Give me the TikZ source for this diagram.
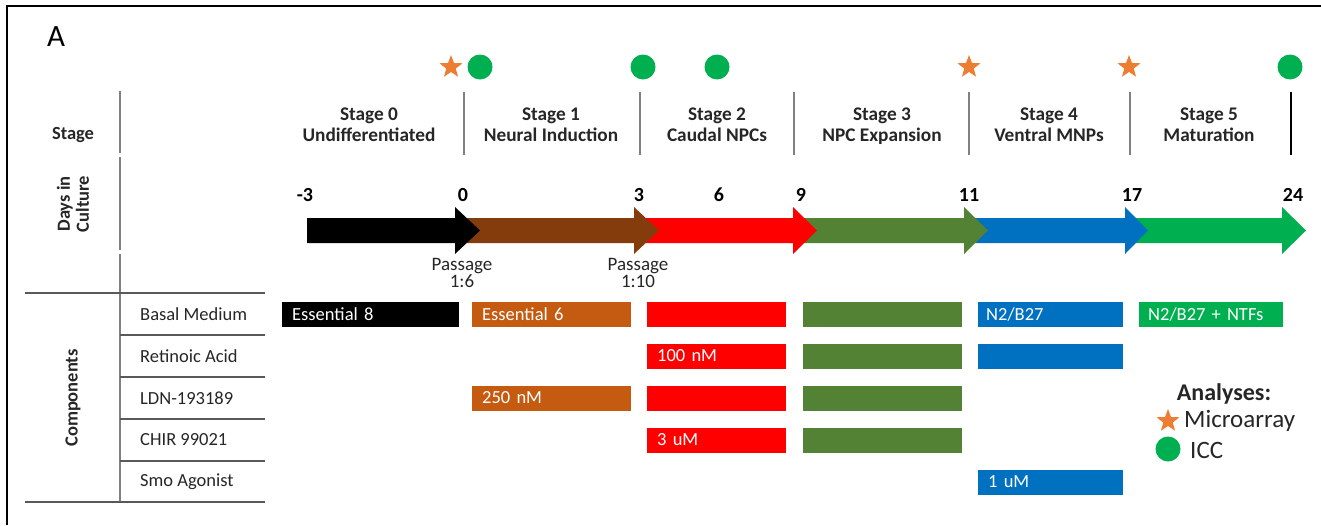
\documentclass[tikz,border=0pt]{standalone}
\usepackage{fontspec}
\setmainfont{Carlito}
\usetikzlibrary{shapes.geometric}
\definecolor{cbrownA}{HTML}{843C0C}
\definecolor{cbrownB}{HTML}{C55A11}
\definecolor{cred}{HTML}{FF0000}
\definecolor{colive}{HTML}{548235}
\definecolor{cblue}{HTML}{0070C0}
\definecolor{cgreen}{HTML}{00B050}
\definecolor{corange}{HTML}{ED7D31}
\definecolor{cgrid}{HTML}{808080}
\definecolor{cline}{HTML}{595959}
\begin{document}
\begin{tikzpicture}[x=1pt,y=-1pt,
  stagetxt/.style={font=\fontsize{19.3}{21}\selectfont\bfseries, align=center, inner sep=0pt, text=black!85},
  daytxt/.style={font=\fontsize{20}{20}\selectfont\bfseries, inner sep=0pt},
  hdrtxt/.style={font=\fontsize{18.5}{19}\selectfont\bfseries, align=center, inner sep=0pt, text=black!85},
  rowtxt/.style={font=\fontsize{18.5}{19}\selectfont, anchor=west, inner sep=0pt, text=black!85},
  passtxt/.style={font=\fontsize{19}{17}\selectfont, align=center, inner sep=0pt, text=black!85},
  bar/.style={minimum height=25pt, inner ysep=0pt, inner xsep=10pt, anchor=west, text=white,
     font=\fontsize{18.5}{19}\selectfont, align=left},
  star5/.style={star, star points=5, star point ratio=2.4, minimum size=24pt, inner sep=0pt, fill=corange},
  dot/.style={circle, minimum size=25pt, inner sep=0pt, fill=cgreen},
  divider/.style={cgrid, line width=1.6pt},
  grid/.style={cline, line width=1.6pt},
  lgtxt/.style={font=\fontsize{25}{26}\selectfont, anchor=west, inner sep=0pt, text=black!85},
]
\useasboundingbox (0,0) rectangle (1321,525);
% frame
\draw[line width=2.2pt] (7,525) -- (7,6) -- (1321,6);
\node[font=\fontsize{31}{32}\selectfont, inner sep=0pt] (lblA) at (56,37) {A};

% analysis markers
\node[star5] (m1) at (451,67) {};
\node[dot] (m2) at (480,67) {};
\node[dot] (m3) at (643,67) {};
\node[dot] (m4) at (717,67) {};
\node[star5] (m5) at (969,67) {};
\node[star5] (m6) at (1129,67) {};
\node[dot] (m7) at (1290,67) {};

% stage dividers
\coordinate (d0t) at (464,92); \coordinate (d0b) at (464,155);
\coordinate (d1t) at (640,92); \coordinate (d1b) at (640,155);
\coordinate (d2t) at (794,92); \coordinate (d2b) at (794,155);
\coordinate (d3t) at (969,92); \coordinate (d3b) at (969,155);
\coordinate (d4t) at (1130,92); \coordinate (d4b) at (1130,155);
\coordinate (d5t) at (1291,92); \coordinate (d5b) at (1291,155);
\draw[divider] (d0t) -- (d0b);
\draw[divider] (d1t) -- (d1b);
\draw[divider] (d2t) -- (d2b);
\draw[divider] (d3t) -- (d3b);
\draw[divider] (d4t) -- (d4b);
\draw[black, line width=2.2pt] (d5t) -- (d5b);

% stage labels
\node[stagetxt] (st0) at (369,126.5) {Stage 0\strut\\Undifferentiated\strut};
\node[stagetxt] (st1) at (551,126.5) {Stage 1\strut\\Neural Induction\strut};
\node[stagetxt] (st2) at (717,126.5) {Stage 2\strut\\Caudal NPCs\strut};
\node[stagetxt] (st3) at (882,126.5) {Stage 3\strut\\NPC Expansion\strut};
\node[stagetxt] (st4) at (1049,126.5) {Stage 4\strut\\Ventral MNPs\strut};
\node[stagetxt] (st5) at (1209,126.5) {Stage 5\strut\\Maturation\strut};

% left header column
\node[hdrtxt] (hStage) at (73,135) {Stage};
\node[hdrtxt, rotate=90] (hDays) at (73,204) {Days in\\Culture};
\node[hdrtxt, rotate=90] (hComp) at (73,398) {Components};
\coordinate (v1) at (120,91); \coordinate (v2) at (120,153);
\coordinate (v3) at (120,157); \coordinate (v4) at (120,250);
\coordinate (v5) at (120,254); \coordinate (v6) at (120,502);
\draw[cgrid, line width=1.8pt] (v1) -- (v2);
\draw[cgrid, line width=1.8pt] (v3) -- (v4);
\draw[cgrid, line width=1.8pt] (v5) -- (v6);

% days
\node[daytxt] (dm3) at (305,195) {-3};
\node[daytxt] (d0) at (463,195) {0};
\node[daytxt] (d3) at (639,195) {3};
\node[daytxt] (d6) at (719,195) {6};
\node[daytxt] (d9) at (801,195) {9};
\node[daytxt] (d11) at (969,195) {11};
\node[daytxt] (d17) at (1132,195) {17};
\node[daytxt] (d24) at (1293,195) {24};

% timeline arrows (drawn back to front)
\fill[cgreen]  (1125,218) -- (1282,218) -- (1282,207) -- (1306,230.5) -- (1282,254) -- (1282,243) -- (1125,243) -- cycle;
\fill[cblue]   (965,218) -- (1125,218) -- (1125,207) -- (1148,230.5) -- (1125,254) -- (1125,243) -- (965,243) -- cycle;
\fill[colive]  (790,218) -- (964,218) -- (964,207) -- (988,230.5) -- (964,254) -- (964,243) -- (790,243) -- cycle;
\fill[cred]    (634,218) -- (793,218) -- (793,207) -- (817,230.5) -- (793,254) -- (793,243) -- (634,243) -- cycle;
\fill[cbrownA] (455,218) -- (634,218) -- (634,207) -- (659,230.5) -- (634,254) -- (634,243) -- (455,243) -- cycle;
\fill[black]   (307,218) -- (455,218) -- (455,207) -- (480,230.5) -- (455,254) -- (455,243) -- (307,243) -- cycle;

% passage labels
\node[passtxt] (pass1) at (462,273) {Passage\\1:6};
\node[passtxt] (pass2) at (638,273) {Passage\\1:10};

% component table lines
\draw[grid] (25,293) -- (265,293);
\draw[grid] (120,335) -- (265,335);
\draw[grid] (120,377) -- (265,377);
\draw[grid] (120,419) -- (265,419);
\draw[grid] (120,461) -- (265,461);
\draw[grid] (25,502) -- (265,502);

% row labels
\node[rowtxt] (r1) at (140,314) {Basal Medium};
\node[rowtxt] (r2) at (140,356) {Retinoic Acid};
\node[rowtxt] (r3) at (140,398) {LDN-193189};
\node[rowtxt] (r4) at (140,440) {CHIR 99021};
\node[rowtxt] (r5) at (140,482) {Smo Agonist};

% bars row 1
\node[bar, fill=black,   text width=157pt] (b11) at (282,314) {Essential 8};
\node[bar, fill=cbrownB, text width=139pt] (b12) at (472,314) {Essential 6};
\node[bar, fill=cred,    text width=119pt] (b13) at (647,314) {};
\node[bar, fill=colive,  text width=139pt] (b14) at (803,314) {};
\node[bar, fill=cblue,   inner xsep=8pt, text width=129pt] (b15) at (978,314) {N2/B27};
\node[bar, fill=cgreen,  inner xsep=9pt, text width=126pt] (b16) at (1139,314) {N2/B27 + NTFs};
% row 2
\node[bar, fill=cred,    text width=119pt] (b23) at (647,356) {100 nM};
\node[bar, fill=colive,  text width=139pt] (b24) at (803,356) {};
\node[bar, fill=cblue,   text width=125pt] (b25) at (978,356) {};
% row 3
\node[bar, fill=cbrownB, text width=139pt] (b32) at (472,398) {250 nM};
\node[bar, fill=cred,    text width=119pt] (b33) at (647,398) {};
\node[bar, fill=colive,  text width=139pt] (b34) at (803,398) {};
% row 4
\node[bar, fill=cred,    text width=119pt] (b43) at (647,440) {3 uM};
\node[bar, fill=colive,  text width=139pt] (b44) at (803,440) {};
% row 5
\node[bar, fill=cblue,   text width=125pt] (b55) at (978,482) {1 uM};

% legend
\node[font=\fontsize{24}{26}\selectfont\bfseries, inner sep=0pt, text=black!85] (lgT) at (1224,394) {Analyses:};
\node[star5] (lgS) at (1168,421) {};
\node[lgtxt] (lgM) at (1184,421) {Microarray};
\node[dot] (lgC) at (1168,449) {};
\node[lgtxt] (lgI) at (1190,450) {ICC};
\end{tikzpicture}
\end{document}
